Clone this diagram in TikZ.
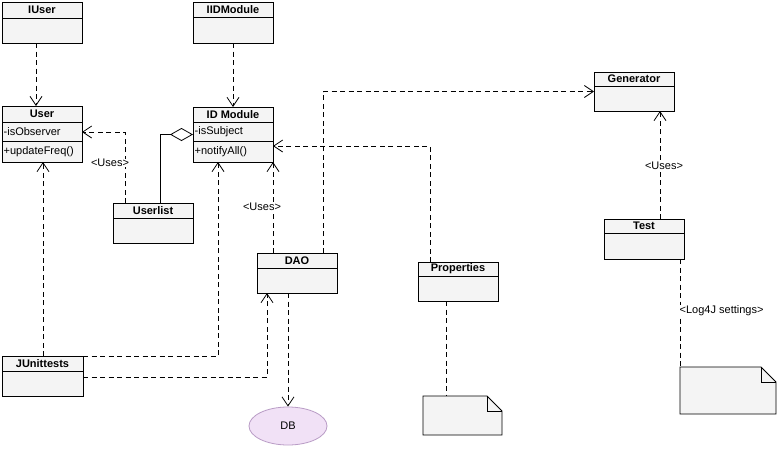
\documentclass[tikz,border=0pt]{standalone}
\usepackage{fontspec}
\setmainfont{Liberation Sans}
\usetikzlibrary{arrows.meta,shapes.geometric}
\definecolor{boxfill}{HTML}{F4F4F4}
\definecolor{dbfill}{HTML}{F1E1F6}
\definecolor{dbdraw}{HTML}{B99CC6}
\tikzset{
  umlbox/.style={draw, fill=boxfill, anchor=north west, inner sep=0pt, outer sep=0pt, line width=0.8pt},
  titletext/.style={font=\bfseries\fontsize{11}{13}\selectfont, inner sep=0pt},
  membertext/.style={font=\fontsize{11}{13}\selectfont, anchor=west, inner sep=0pt},
  deparrow/.style={line width=0.8pt, dash pattern=on 5pt off 3.5pt, -{Straight Barb[length=9pt,width=12pt,line width=0.8pt]}},
  dashlink/.style={line width=0.8pt, dash pattern=on 5pt off 3.5pt},
  stereo/.style={font=\fontsize{11}{13}\selectfont, fill=white, inner sep=0.5pt},
}
\newcommand{\umlclass}[7]{%
  \node[umlbox, minimum width=#4pt, minimum height=#5pt] (#1) at (#2,#3) {};
  \draw[line width=0.8pt] (#2,#6) -- ++(#4,0);
  \node[titletext] at ({#2+#4/2},{(#3+#6)/2}) {#7};
}
\newcommand{\umlnote}[5]{%
  \node[minimum width=#4pt, minimum height=#5pt, anchor=north west, inner sep=0pt, outer sep=0pt] (#1) at (#2,#3) {};
  \draw[line width=0.8pt, fill=boxfill] (#1.north west) -- ([xshift=-15pt]#1.north east) -- ([yshift=-15pt]#1.north east) -- (#1.south east) -- (#1.south west) -- cycle;
  \draw[line width=0.8pt] ([xshift=-15pt]#1.north east) |- ([yshift=-15pt]#1.north east);
}
\begin{document}
\begin{tikzpicture}[x=1pt,y=-1pt]
\useasboundingbox[fill=white] (0,0) rectangle (780,450);

% classes
\umlclass{iuser}{2}{2}{80}{41}{18}{IUser}
\umlclass{user}{2}{106}{80}{56}{122}{User}
\draw[line width=0.8pt] (2,141) -- (82,141);
\node[membertext] at (3.5,131.5) {-isObserver};
\node[membertext] at (3.5,151.5) {+updateFreq()};

\umlclass{iid}{193}{2}{80}{41}{17}{IIDModule}
\umlclass{idm}{193}{107}{80}{55}{122}{ID Module}
\draw[line width=0.8pt] (193,141) -- (273,141);
\node[membertext] at (194.5,131.5) {-isSubject};
\node[membertext] at (194.5,151.5) {+notifyAll()};

\umlclass{userlist}{113}{203}{80}{40}{218}{Userlist}
\umlclass{dao}{257}{253}{80}{40}{268}{DAO}
\umlclass{properties}{418}{262}{80}{39}{276}{Properties}
\umlclass{generator}{594}{72}{80}{39}{86}{Generator}
\umlclass{test}{604}{219}{80}{40}{233}{Test}
\umlclass{junit}{2}{356}{81}{40}{371}{JUnittests}

% database
\node[ellipse, draw=dbdraw, fill=dbfill, line width=0.8pt, minimum width=78pt, minimum height=38pt, inner sep=0pt, font=\fontsize{11}{13}\selectfont] (db) at (288,426) {DB};

% notes
\umlnote{note1}{423}{396}{79}{39}
\umlnote{note2}{680}{367}{96}{47}

% connectors
\draw[deparrow] ([xshift=34pt]iuser.south west) -- ([xshift=34pt]user.north west);
\draw[deparrow] (iid.south) -- (idm.north);
\draw[deparrow] ([xshift=12pt]userlist.north west) |- ([yshift=2pt]user.east);
\node[stereo] (uses1) at (110,163) {<Uses>};
\draw[line width=0.8pt, {Diamond[length=23pt,width=13pt,fill=white,line width=0.8pt]}-] (idm.west) -| ([xshift=47pt]userlist.north west);
\draw[deparrow] ([xshift=12pt]properties.north west) |- ([yshift=-11.5pt]idm.east);
\draw[deparrow] ([xshift=66pt]dao.north west) |- (generator.west);
\draw[deparrow] ([xshift=16pt]dao.north west) -- (idm.south east);
\node[stereo] (uses2) at (262,207) {<Uses>};
\draw[deparrow] ([xshift=56pt]test.north west) -- ([xshift=66pt]generator.south west);
\node[stereo] (uses3) at (664,166) {<Uses>};
\draw[deparrow] ([xshift=41pt]junit.north west) -- ([xshift=41pt]user.south west);
\draw[deparrow] (junit.north east) -| ([xshift=25pt]idm.south west);
\draw[deparrow] ([yshift=-21pt]junit.north east) -| ([xshift=10pt]dao.south west);
\draw[deparrow] ([xshift=31pt]dao.south west) -- (db.north);
\draw[dashlink] ([xshift=28pt]properties.south west) -- ([xshift=23pt]note1.north west);
\draw[dashlink] ([xshift=-4pt]test.south east) -- (note2.north west);
\node[stereo, anchor=west] (log4j) at (679,311) {<Log4J settings>};
\end{tikzpicture}
\end{document}
